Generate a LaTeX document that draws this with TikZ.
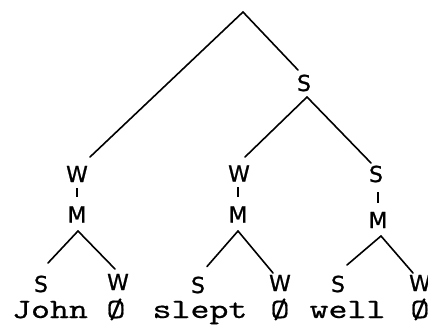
\documentclass[tikz,border=0pt]{standalone}
\usepackage{fontspec}
\usepackage{graphicx}
\newfontfamily\labfont{DejaVu Sans}[FakeBold=0.8]
\newfontfamily\twfont{lmmono10-regular.otf}[FakeBold=0.5]
\tikzset{
  lab/.style={inner sep=0pt, font=\labfont\fontsize{22}{22}\selectfont},
  word/.style={inner sep=0pt, anchor=base, font=\twfont\fontsize{28}{30}\selectfont},
  branch/.style={line width=1.6pt, line cap=round},
  tick/.style={line width=1.8pt}
}
\newcommand{\stretchword}[1]{\scalebox{1.29}[1]{#1}}
\begin{document}
\begin{tikzpicture}[x=1pt,y=-1pt]
\useasboundingbox (0,0) rectangle (428,326);
% upper tree
\coordinate (root) at (243,12);
\node[lab] (sR) at (304,83) {S};
% columns
\node[lab] (w1) at (77,174) {W};
\node[lab] (m1) at (77,214.5) {M};
\coordinate (a1) at (78,231);
\node[lab] (w2) at (239,173.5) {W};
\node[lab] (m2) at (238,214.5) {M};
\coordinate (a2) at (238,231);
\node[lab] (s3) at (376,174) {S};
\node[lab] (m3) at (378,220) {M};
\coordinate (a3) at (381,236);
% children
\node[lab] (s1a) at (41,284) {S};
\node[lab] (w1b) at (118,282) {W};
\node[lab] (s2a) at (198,285) {S};
\node[lab] (w2b) at (280,283) {W};
\node[lab] (s3a) at (338,284) {S};
\node[lab] (w3b) at (420,283) {W};
% words
\node[word] (john) at (50,318) {\stretchword{John}};
\node[word] (z1) at (116,318) {\stretchword{Ø}};
\node[word] (slept) at (200,318) {\stretchword{slept}};
\node[word] (z2) at (280,318) {\stretchword{Ø}};
\node[word] (well) at (347.5,318) {\stretchword{well}};
\node[word] (z3) at (420,318) {\stretchword{Ø}};
% branches
\draw[branch] (root) -- ([shift={(-6,-13)}]sR.center);
\draw[branch] (root) -- ([shift={(13,-17)}]w1.center);
\draw[branch] ([shift={(3,14)}]sR.center) -- ([shift={(6,-16.5)}]w2.center);
\draw[branch] ([shift={(3,14)}]sR.center) -- ([shift={(-5,-11)}]s3.center);
% ticks
\draw[tick] ([shift={(0,14)}]w1.center) -- ([shift={(0,-17.5)}]m1.center);
\draw[tick] ([shift={(-1,13.5)}]w2.center) -- ([shift={(0,-17.5)}]m2.center);
\draw[tick] ([shift={(2,18)}]s3.center) -- ([shift={(0,-17)}]m3.center);
% lower branches
\draw[branch] (a1) -- ([shift={(7,-21)}]s1a.center);
\draw[branch] (a1) -- ([shift={(-3,-13)}]w1b.center);
\draw[branch] (a2) -- ([shift={(9,-18.5)}]s2a.center);
\draw[branch] (a2) -- ([shift={(-7,-10)}]w2b.center);
\draw[branch] (a3) -- ([shift={(9,-19)}]s3a.center);
\draw[branch] (a3) -- ([shift={(-7,-10)}]w3b.center);
\end{tikzpicture}
\end{document}
